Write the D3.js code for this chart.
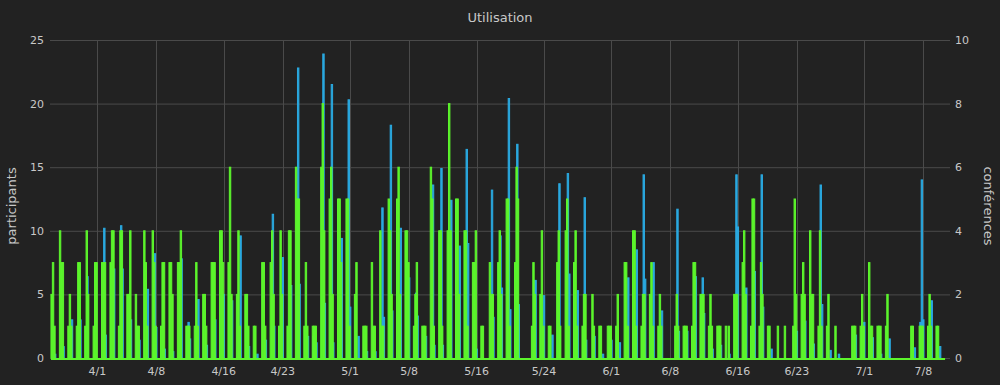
<!DOCTYPE html>
<html><head><meta charset="utf-8">
<script src="https://cdn.jsdelivr.net/npm/d3@7"></script>
<style>
body{margin:0;background:#222222;}
svg{display:block;font-family:"DejaVu Sans",sans-serif;}
</style>
</head><body><svg id="c" width="1000" height="385"></svg>
<script>
// ---- data ----
const startDay = [2020, 2, 26];           // 26 March 2020, first day of the series
const slotHours = [12, 16, 20];           // three 4-hour samples per day
const slotWidthHours = 4;
const dataEndDay = [2020, 6, 10, 14];     // last sample time (baseline end)

// conférences per day (three samples)
const conferences = [
[2,3,1],[4,3,3],[1,2,1],[1,3,3],[1,4,2],[1,3,3],[3,3,3],[3,4,4],[1,4,4],[2,2,4],
[2,1,1],[4,3,1],[4,3,1],[1,3,3],[3,3,2],[3,3,4],[1,1,1],[1,3,1],[2,2,1],[3,3,3],
[4,4,3],[3,6,2],[2,4,1],[2,2,1],[1,1,0],[3,3,1],[3,4,2],[1,4,2],[1,4,4],[6,5,5],
[1,3,1],[1,1,1],[6,8,4],[5,6,2],[5,5,3],[5,5,1],[2,3,0],[1,1,1],[3,1,1],[4,1,1],
[5,4,2],[5,6,2],[4,4,3],[1,2,3],[1,1,1],[6,5,1],[4,4,1],[4,8,4],[5,5,2],[4,4,1],
[3,3,4],[1,1,0],[3,2,2],[3,4,2],[5,5,1],[3,6,5],[0,0,0],[1,3,2],[2,4,1],[1,1,0],
[3,4,1],[4,5,1],[3,4,1],[1,2,2],[0,2,1],[1,1,0],[1,1,1],[1,2,0],[3,3,1],[4,4,1],
[1,2,2],[2,3,1],[1,2,1],[0,0,0],[1,2,1],[1,1,1],[1,3,3],[2,2,2],[1,2,1],[1,1,1],
[1,0,1],[2,2,2],[3,4,2],[1,5,5],[1,3,2],[1,1,0],[0,1,0],[1,0,0],[1,5,2],[2,3,2],
[4,2,2],[1,4,1],[1,2,0],[1,0,0],[0,0,0],[1,1,1],[1,2,1],[3,1,1],[1,1,1],[1,2,0],
[0,0,0],[0,0,0],[1,1,0],[1,1,1],[1,2,1],[1,1,0],[0,0,0]
];

// participants per day (three samples)
const participants = [
[0,0,0.3],[0,0,0.9],[0,0,3],[0,0,3],[0,6.4,0],[0.3,0,0],[0,10.2,1.8],[0,0,7],[0,10.4,7],[0,0,3],
[0,0,1.4],[0,0,5.4],[0,8.2,2.4],[0,0,0.7],[0,0,0.5],[0,0,7.8],[0,2.8,1.5],[0,0,4.6],[0,0,1],[0,0,3],
[0,0,5],[0,0,4.5],[0,0,9.6],[0,0,0.9],[0,0,0.3],[0,0,1.4],[0,11.3,2.5],[0,0,7.9],[0,0,5.7],[0,22.8,5.8],
[0,0,1.7],[1.7,0,1.2],[0,23.9,4.3],[0,21.5,1.2],[0,0,9.4],[0,20.3,4],[0,0,1.7],[0,0,0.5],[0,0,0.5],[0,11.8,3.2],
[0,18.3,3.7],[0,0,10.2],[0,0,6.3],[0,5.1,3.3],[0,0,1.7],[0,13.6,1],[0,14.9,1],[0,0,12.4],[0,0,8.8],[0,16.4,9],
[0,0,0.7],[0,0,0],[0,13.2,3.2],[0,9.6,5.5],[0,20.4,3.8],[0,16.8,4.2],[0,0,0],[0,6.1,6.1],[0,0,4.9],[0,0,1.8],
[0,13.7,0],[0,14.5,6.6],[0,0,5.3],[0,12.6,1.4],[0,0,1.7],[0,0,0.3],[0,0,1.4],[0,0,1.2],[0,0,6.3],[0,0,8.5],
[0,14.4,6.2],[0,0,7.5],[0,0,3.7],[0,0,0],[0,11.7,2.1],[0,0,2.1],[0,0,6.4],[0,6.3,3.5],[0,0,0.7],[0,0,1],
[0,0,0.3],[0,14.4,10.3],[0,0,5.5],[0,0,6.8],[0,14.4,4],[0,0,0.7],[0,0,0],[0,0,0],[0,0,2.1],[0,0,2.9],
[0,0,1.1],[0,13.6,4.2],[0,0,0.6],[0,0,0.3],[0,0,0],[0,0,1.8],[0,0,2.8],[0,0,1.6],[0,0,0.3],[0,0,1.5],
[0,0,0],[0,0,0],[0,0,0.8],[2.8,14.0,3],[0,0,4.5],[0,0,0.9],[0,0,0]
];

const xTickDates = ["2020-04-01","2020-04-08","2020-04-16","2020-04-23","2020-05-01","2020-05-08",
  "2020-05-16","2020-05-24","2020-06-01","2020-06-08","2020-06-16","2020-06-23","2020-07-01","2020-07-08"];
const leftTicks = [0,5,10,15,20,25];
const rightTicks = [0,2,4,6,8,10];
const title = "Utilisation";
const leftLabel = "participants";
const rightLabel = "conférences";

// ---- drawing ----
const green = "#5cf52c", blue = "#2aa9e0", gridColor = "#4a4a4a", textColor = "#c8c8c8";
const svg = d3.select("#c");
const W = 1000, H = 385;
const plot = {left: 50, right: 950, top: 40, bottom: 358};

const parse = d3.timeParse("%Y-%m-%d");
const x = d3.scaleTime()
  .domain([parse("2020-04-01"), parse("2020-07-08")])
  .range([97.3, 923.3]);
const yL = d3.scaleLinear().domain([0,25]).range([plot.bottom, plot.top]);
const yR = d3.scaleLinear().domain([0,10]).range([plot.bottom, plot.top]);

svg.append("rect").attr("width", W).attr("height", H).attr("fill", "#222222");

// grid
const g = svg.append("g");
g.selectAll("line.h").data(leftTicks).join("line")
  .attr("x1", plot.left).attr("x2", plot.right)
  .attr("y1", d => yL(d) + 0.5).attr("y2", d => yL(d) + 0.5)
  .attr("stroke", gridColor).attr("stroke-width", 1);
g.selectAll("line.v").data(xTickDates.map(parse)).join("line")
  .attr("x1", d => Math.round(x(d)) + 0.5).attr("x2", d => Math.round(x(d)) + 0.5)
  .attr("y1", plot.top).attr("y2", plot.bottom + 1)
  .attr("stroke", gridColor).attr("stroke-width", 1);

function slotTime(i, k, extraHours) {
  return new Date(startDay[0], startDay[1], startDay[2] + i, slotHours[k] + (extraHours || 0));
}
function flatten(arr) {
  const out = [];
  arr.forEach((day, i) => day.forEach((v, k) => { if (v > 0) out.push({i, k, v}); }));
  return out;
}

// participants (blue), slightly offset
svg.append("g").selectAll("rect").data(flatten(participants)).join("rect")
  .attr("x", d => x(slotTime(d.i, d.k, 2)))
  .attr("width", d => x(slotTime(d.i, d.k, 2 + slotWidthHours)) - x(slotTime(d.i, d.k, 2)))
  .attr("y", d => yL(d.v))
  .attr("height", d => yL(0) - yL(d.v))
  .attr("fill", blue).attr("stroke", blue).attr("stroke-width", 1);

// conférences (green)
svg.append("g").selectAll("rect").data(flatten(conferences)).join("rect")
  .attr("x", d => x(slotTime(d.i, d.k)))
  .attr("width", d => x(slotTime(d.i, d.k, slotWidthHours)) - x(slotTime(d.i, d.k)))
  .attr("y", d => yR(d.v))
  .attr("height", d => yR(0) - yR(d.v))
  .attr("fill", green).attr("stroke", green).attr("stroke-width", 1);

// zero baseline of the bar series
const tStart = slotTime(0, 0);
const tEnd = new Date(dataEndDay[0], dataEndDay[1], dataEndDay[2], dataEndDay[3]);
svg.append("line")
  .attr("x1", x(tStart)).attr("x2", x(tEnd))
  .attr("y1", yL(0) + 1).attr("y2", yL(0) + 1)
  .attr("stroke", green).attr("stroke-width", 2);

// axes text
const fmt = d3.timeFormat("%-m/%-d");
svg.append("g").selectAll("text").data(xTickDates.map(parse)).join("text")
  .attr("x", d => x(d)).attr("y", 375)
  .attr("text-anchor", "middle").attr("font-size", 11).attr("fill", textColor)
  .text(d => fmt(d));
svg.append("g").selectAll("text").data(leftTicks).join("text")
  .attr("x", 44).attr("y", d => yL(d) + 4)
  .attr("text-anchor", "end").attr("font-size", 11).attr("fill", textColor)
  .text(d => d);
svg.append("g").selectAll("text").data(rightTicks).join("text")
  .attr("x", 955).attr("y", d => yR(d) + 4)
  .attr("text-anchor", "start").attr("font-size", 11).attr("fill", textColor)
  .text(d => d);

svg.append("text").attr("x", 500).attr("y", 22).attr("text-anchor", "middle")
  .attr("font-size", 13).attr("fill", textColor).text(title);
svg.append("text").attr("transform", "translate(16,206) rotate(-90)")
  .attr("text-anchor", "middle").attr("font-size", 13).attr("fill", textColor).text(leftLabel);
svg.append("text").attr("transform", "translate(984,206) rotate(90)")
  .attr("text-anchor", "middle").attr("font-size", 13).attr("fill", textColor).text(rightLabel);
</script>
</body></html>
